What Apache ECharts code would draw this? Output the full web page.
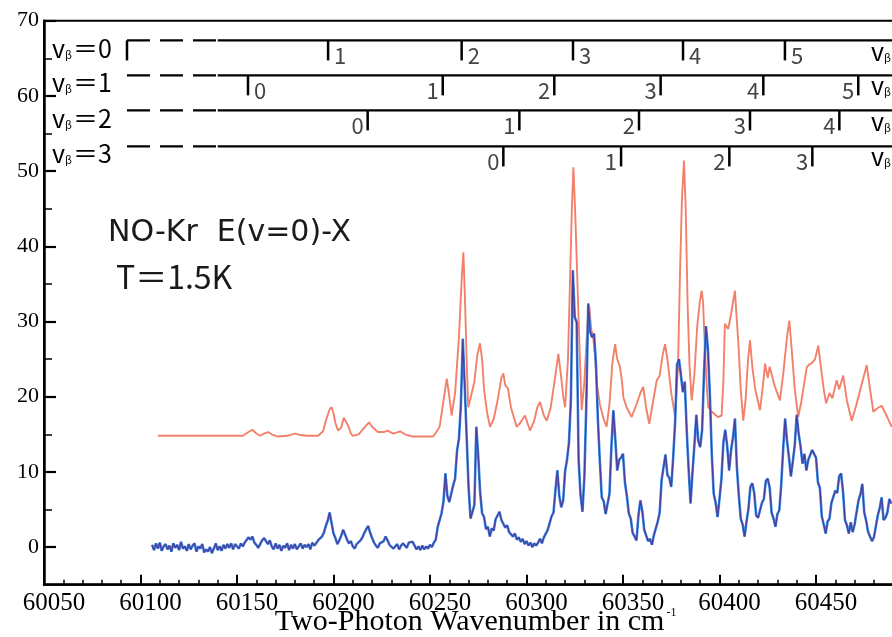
<!DOCTYPE html>
<html>
<head>
<meta charset="utf-8">
<script src="https://cdn.jsdelivr.net/npm/echarts@6/dist/echarts.min.js"></script>
<style>
  html, body { margin: 0; padding: 0; background: #fff; }
  #chart { width: 892px; height: 637px; }
</style>
</head>
<body>
<div id="chart"></div>
<script>
// ---- axis ticks ----
const xTickValues = [60050, 60100, 60150, 60200, 60250, 60300, 60350, 60400, 60450];
const yTickValues = [0, 10, 20, 30, 40, 50, 60, 70];
const yMinorTickValues = [5, 15, 25, 35, 45, 55, 65];

// ---- NO-Kr E(v=0)-X, T = 1.5 K : upper (offset) trace, [wavenumber, signal] ----
const upperTrace = [
  [60109,14.8],[60153,14.8],[60156,15.3],[60158,15.6],[60160,15.1],[60162,14.8],[60164,15.1],[60166,15.3],
  [60168,15.0],[60171,14.7],[60176,14.8],[60180,15.1],[60183,14.9],[60186,14.8],[60192,14.8],[60194.6,15.4],
  [60196,16.8],[60198,18.3],[60199,18.6],[60200,17.8],[60201,16.5],[60202.3,15.5],[60204,15.9],[60205.3,17.2],
  [60206.3,17.4],[60207.5,16.2],[60209,15.1],[60210,14.8],[60213,15.0],[60216,15.9],[60218.4,16.6],[60220,16.0],
  [60223,15.3],[60226,15.3],[60228,15.5],[60231,15.1],[60234.5,15.4],[60237,15.0],[60241,14.7],[60251.6,14.7],
  [60253,15.2],[60255,16.0],[60257,19.5],[60258.7,22.4],[60260,20.0],[60261.2,17.5],[60263,20.5],[60265,28.0],
  [60266.5,36.0],[60267.3,39.2],[60268,34.0],[60269,25.0],[60269.8,18.6],[60271,19.8],[60273,22.0],[60274.5,25.5],
  [60275.9,27.1],[60277,25.0],[60278,21.0],[60279.5,18.0],[60281.1,16.0],[60283,17.0],[60285,19.5],[60287,22.5],
  [60288,23.1],[60289,21.5],[60290.4,21.1],[60292,18.5],[60294.9,16.0],[60297,16.6],[60299.2,17.5],[60301.8,15.5],
  [60304,16.8],[60305.5,18.5],[60307,19.3],[60309,17.5],[60310.5,16.8],[60312.5,18.5],[60314.5,22.0],[60316.5,25.7],
  [60318,22.5],[60319.1,19.9],[60320,18.6],[60321.5,25.0],[60322.5,35.0],[60323.5,45.0],[60324.3,50.5],[60325.3,44.0],
  [60326.8,31.9],[60327.8,24.0],[60328.6,18.2],[60330,22.0],[60331.5,29.5],[60332.5,32.1],[60333.5,29.0],[60334.5,28.0],
  [60335.5,25.5],[60336.4,21.8],[60338,19.0],[60340,17.0],[60341.5,16.0],[60343,19.0],[60344.5,24.5],[60345.9,27.0],
  [60347,25.0],[60348.4,24.0],[60349.5,22.0],[60350.2,19.9],[60352,18.5],[60354.5,17.3],[60357,19.0],[60359,20.5],
  [60360.5,21.3],[60362,18.5],[60363.6,16.4],[60365,18.5],[60367.5,22.2],[60369,22.8],[60370.5,25.5],[60371.8,27.0],
  [60373,25.0],[60375,20.5],[60377,17.3],[60378.5,24.0],[60379.5,36.0],[60380.5,46.0],[60381.6,51.4],[60382.5,45.0],
  [60383.5,32.0],[60384.5,24.0],[60385.6,19.5],[60387,23.0],[60388.5,29.5],[60390,33.0],[60390.8,34.1],[60391.5,32.5],
  [60392.5,26.0],[60393.5,21.0],[60394.2,18.6],[60396,18.0],[60399.2,17.3],[60401.1,17.5],[60402,22.0],[60402.8,29.7],
  [60404.5,29.0],[60406,31.0],[60408,34.1],[60409,30.0],[60409.7,27.5],[60411,21.0],[60412.3,16.8],[60413.5,19.5],
  [60414.8,25.0],[60415.8,27.5],[60417,24.0],[60418.5,21.0],[60421,18.2],[60422.5,21.5],[60423.6,24.4],[60425,22.5],
  [60426,24.0],[60427,23.0],[60428.5,21.5],[60431.3,19.5],[60433,23.0],[60435,28.0],[60436.2,30.1],[60437.5,26.0],
  [60439,21.0],[60440.8,17.3],[60442.5,19.5],[60445.2,23.9],[60446.5,24.3],[60448,24.5],[60449.5,25.0],[60451.2,26.8],
  [60452.5,24.0],[60454,21.0],[60455.2,19.1],[60457,20.5],[60458.5,19.8],[60460.7,22.2],[60462,21.0],[60464.1,22.8],
  [60466,19.5],[60468.5,16.8],[60471,19.0],[60473,21.0],[60476.3,24.2],[60478,21.0],[60479.7,18.0],[60482,18.5],
  [60484,18.8],[60486,17.8],[60489.2,16.0]
];

// ---- lower trace: one reading per cm^-1 starting at lowerStart ----
const lowerStart = 60106;
const lowerTrace = [
  0.3,-0.4,0.5,-0.2,0.6,-0.5,0.1,0.4,-0.3,0.2,-0.6,0.5,-0.1,0.3,-0.4,0.7,-0.2,0.1,-0.5,0.4,       // 60106
  -0.3,0.2,0.5,-0.6,0.1,-0.2,0.4,-0.7,-0.3,-0.6,0.0,-0.8,-0.2,0.5,-0.4,0.1,-0.5,0.3,-0.2,0.4,     // 60126
  -0.1,0.5,-0.3,0.4,0.2,-0.2,0.5,0.1,0.6,0.8,1.3,1.0,1.4,0.6,0.3,-0.1,0.4,0.9,1.2,0.8,            // 60146
  0.4,0.9,0.1,-0.3,0.5,-0.2,0.3,-0.5,0.2,-0.1,0.5,-0.4,0.3,-0.2,0.4,-0.3,0.1,0.5,-0.2,0.3,        // 60166
  0.0,0.4,-0.3,0.6,0.2,0.5,0.9,0.7,1.4,1.9,2.8,3.5,4.6,3.2,1.8,1.2,0.4,0.9,1.5,2.3,               // 60186
  2.1,1.0,0.5,0.8,0.1,-0.2,0.4,0.3,0.9,1.3,1.9,2.4,2.8,1.9,1.2,0.6,0.2,-0.1,0.5,0.3,              // 60206
  0.8,1.4,0.9,0.3,0.5,-0.2,0.1,0.4,-0.3,0.2,0.5,0.3,-0.1,0.6,0.4,0.7,0.2,-0.3,0.1,-0.4,           // 60226
  0.2,-0.3,0.1,-0.2,0.3,0.0,0.6,1.0,2.7,2.8,4.5,6.1,9.8,6.8,6.0,6.0,8.2,9.1,12.8,14.4,            // 60246
  18.9,27.7,21.4,14.6,7.9,3.8,3.9,5.6,16.0,12.1,7.2,4.5,4.0,2.4,2.7,1.4,2.5,2.2,3.7,3.6,          // 60266
  4.7,3.6,3.4,2.6,2.9,2.0,2.2,1.4,1.8,1.0,1.3,0.7,1.1,0.4,0.8,0.2,0.6,0.0,0.5,0.2,               // 60286
  0.6,1.1,0.5,1.3,1.2,2.3,2.4,4.1,4.6,7.6,10.2,6.8,5.3,6.2,10.1,11.6,13.9,19.6,36.8,30.6,        // 60306
  29.9,11.6,6.9,4.7,9.4,19.1,32.4,28.6,27.9,28.4,24.3,16.9,11.4,6.6,6.1,4.4,4.3,7.1,13.4,18.2,   // 60326
  14.4,10.2,11.6,11.9,12.4,8.6,6.8,4.5,3.8,1.9,2.1,0.9,4.2,6.2,4.8,2.3,2.3,0.8,1.1,0.3,          // 60346
  1.6,1.7,3.4,4.6,8.9,10.6,12.3,9.6,9.2,8.0,11.9,16.6,24.3,25.0,22.9,20.6,22.0,15.6,10.4,5.8,    // 60366
  9.9,13.6,17.6,14.1,13.3,15.6,23.3,29.4,26.3,20.4,12.4,7.1,5.9,4.0,6.4,9.1,13.9,15.6,13.4,10.2, // 60386
  12.9,14.6,17.1,10.6,6.9,3.8,3.0,1.4,3.4,5.1,8.0,8.5,7.2,4.2,3.9,3.8,5.9,6.4,8.8,9.1,           // 60406
  7.9,4.6,3.8,2.7,4.4,4.9,8.4,13.1,17.1,14.1,11.9,9.4,11.4,13.6,17.6,15.1,13.4,11.1,12.4,10.2,   // 60426
  11.6,11.6,12.9,12.9,11.9,8.6,7.9,4.1,3.0,1.8,3.4,3.8,5.9,6.1,7.5,7.2,9.4,9.8,7.4,3.6,          // 60446
  2.9,1.8,3.3,2.0,3.0,3.1,6.2,7.0,8.4,4.6,3.5,2.0,2.0,0.8,1.3,1.1,4.2,5.2,6.6,3.6,3.9,4.6,6.4,5.8 // 60466
];

// ---- vibrational progressions (v_beta rows, v_s markers) ----
const ladderNames = ['0', '1', '2', '3'];
const ladderPositions = [
  [60093.0, 60197.2, 60266.4, 60324.1, 60381.1, 60433.9],
  [60155.7, 60256.6, 60314.4, 60369.5, 60422.7, 60471.9],
  [60217.7, 60296.3, 60358.3, 60415.8, 60462.1],
  [60288.0, 60349.0, 60405.1, 60448.1]
];
const ladderNumbers = [
  ['', '1', '2', '3', '4', '5'],
  ['0', '1', '2', '3', '4', '5'],
  ['0', '1', '2', '3', '4'],
  ['0', '1', '2', '3']
];

// drawing layout for the progression rows
const X_MIN = 60050, X_MAX = 60490, Y_MIN = -5, Y_MAX = 70;
const rowLevels = [67.38, 62.73, 58.07, 53.28];
const breakStart = 60093.0, breakEnd = 60141.0;
const labelOnRight = (row, k) => row === 0 || (row === 1 && k === 0);

const lowerPairs = lowerTrace.map((v, i) => [lowerStart + i, v]);
const xMinorTicks = [];
for (let w = X_MIN; w <= X_MAX; w += 10) if (w % 50 !== 0) xMinorTicks.push(w);

const ladderData = [];
ladderPositions.forEach((row, r) => row.forEach((w, k) => ladderData.push([w, r, k])));

const serif = 'Liberation Serif';
const gothic = 'Noto Sans CJK JP';

const rowLineSeries = [];
rowLevels.forEach((lv) => {
  rowLineSeries.push({
    type: 'line', silent: true, symbol: 'none', z: 5, clip: false,
    data: [[breakStart, lv], [breakEnd, lv]],
    lineStyle: { color: '#000', width: 2.2, type: [23, 10] }
  });
  rowLineSeries.push({
    type: 'line', silent: true, symbol: 'none', z: 5, clip: false,
    data: [[breakEnd - 1, lv], [X_MAX, lv]],
    lineStyle: { color: '#000', width: 2.2 }
  });
});

const rowLabel = (name) => '{v|v}{s|β}{t|＝' + name + '}';
const rowLabelRich = {
  v: { fontFamily: gothic, fontSize: 25, color: '#3c3c3c' },
  s: { fontFamily: gothic, fontSize: 11, color: '#3c3c3c', padding: [12, 1, 0, 0] },
  t: { fontFamily: gothic, fontSize: 25, color: '#3c3c3c' }
};
const leftLabelY = [53, 87, 123, 158];
const graphics = [];
ladderNames.forEach((n, r) => {
  graphics.push({ type: 'text', left: 52, top: leftLabelY[r] - 17,
    style: { text: rowLabel(n), rich: rowLabelRich } });
  graphics.push({ type: 'text', left: 871, top: leftLabelY[r] - 14,
    style: { text: rowLabel(n), rich: rowLabelRich } });
});
graphics.push({ type: 'text', left: 108, top: 218,
  style: { text: 'NO-Kr  E(v=0)-X', font: '30px "DejaVu Sans"', fill: '#1a1a1a' } });
graphics.push({ type: 'text', left: 116, top: 261,
  style: { text: 'T＝1.5K', font: '32px "Noto Sans CJK JP"', fill: '#1a1a1a' } });

const chart = echarts.init(document.getElementById('chart'));
chart.setOption({
  backgroundColor: '#fff',
  animation: false,
  grid: {
    left: 44, top: 20.7, width: 849.2, height: 564,
    show: true, borderColor: '#000', borderWidth: 2,
    outerBoundsMode: 'none'
  },
  xAxis: [{
    type: 'value', min: X_MIN, max: X_MAX, interval: 50,
    splitLine: { show: false },
    axisLine: { onZero: false, lineStyle: { color: '#000', width: 2.5 } },
    axisTick: { inside: true, length: 10, customValues: xTickValues, lineStyle: { color: '#000', width: 2 } },
    axisLabel: {
      customValues: xTickValues, formatter: (v) => String(v),
      color: '#000', fontFamily: serif, fontSize: 25,
      margin: 6, padding: [0, 0, 0, 20]
    },
    name: '{a|Two-Photon Wavenumber in cm}{b|-1}',
    nameLocation: 'middle', nameGap: 22, nameMoveOverlap: false,
    nameTextStyle: {
      padding: [0, 0, 0, 14],
      rich: {
        a: { fontFamily: serif, fontSize: 30, color: '#000' },
        b: { fontFamily: serif, fontSize: 12, color: '#000', verticalAlign: 'top', padding: [0, 0, 0, 2] }
      }
    }
  }, {
    type: 'value', min: X_MIN, max: X_MAX, position: 'bottom',
    splitLine: { show: false }, axisLine: { show: false, onZero: false }, axisLabel: { show: false },
    axisTick: { inside: true, length: 5, customValues: xMinorTicks, lineStyle: { color: '#000', width: 1.5 } }
  }],
  yAxis: [{
    type: 'value', min: Y_MIN, max: Y_MAX,
    splitLine: { show: false },
    axisLine: { onZero: false, lineStyle: { color: '#000', width: 2.5 } },
    axisTick: { inside: true, length: 12, customValues: yTickValues, lineStyle: { color: '#000', width: 2.2 } },
    axisLabel: {
      customValues: yTickValues, color: '#000', fontFamily: serif, fontSize: 22,
      margin: 5, padding: [0, 0, 8, 0]
    }
  }, {
    type: 'value', min: Y_MIN, max: Y_MAX, position: 'left',
    splitLine: { show: false }, axisLine: { show: false, onZero: false }, axisLabel: { show: false },
    axisTick: { inside: true, length: 8, customValues: yMinorTickValues, lineStyle: { color: '#000', width: 1.5 } }
  }],
  graphic: graphics,
  series: [
    {
      type: 'line', data: upperTrace, symbol: 'none', silent: true, z: 3,
      lineStyle: { color: '#f2806a', width: 1.9 }
    },
    {
      type: 'line', data: lowerPairs, symbol: 'none', silent: true, z: 3,
      lineStyle: { color: '#3d8ee6', width: 2.6 }
    },
    {
      type: 'line', data: lowerPairs, symbol: 'none', silent: true, z: 4,
      lineStyle: { color: '#4a3f9e', width: 1.3 }
    },
    ...rowLineSeries,
    {
      type: 'custom', silent: true, z: 6, clip: false,
      data: ladderData,
      renderItem: (params, api) => {
        const row = api.value(1), k = api.value(2);
        const p = api.coord([api.value(0), rowLevels[row]]);
        const right = labelOnRight(row, k);
        return {
          type: 'group',
          children: [
            { type: 'line', shape: { x1: p[0], y1: p[1], x2: p[0], y2: p[1] + 20 },
              style: { stroke: '#000', lineWidth: 2.5 } },
            { type: 'text', style: {
                text: ladderNumbers[row][k],
                x: right ? p[0] + 6 : p[0] - 4, y: p[1] + 15,
                align: right ? 'left' : 'right', verticalAlign: 'middle',
                font: '22px "Noto Sans CJK JP"', fill: '#444' } }
          ]
        };
      }
    }
  ]
});
</script>
</body>
</html>
